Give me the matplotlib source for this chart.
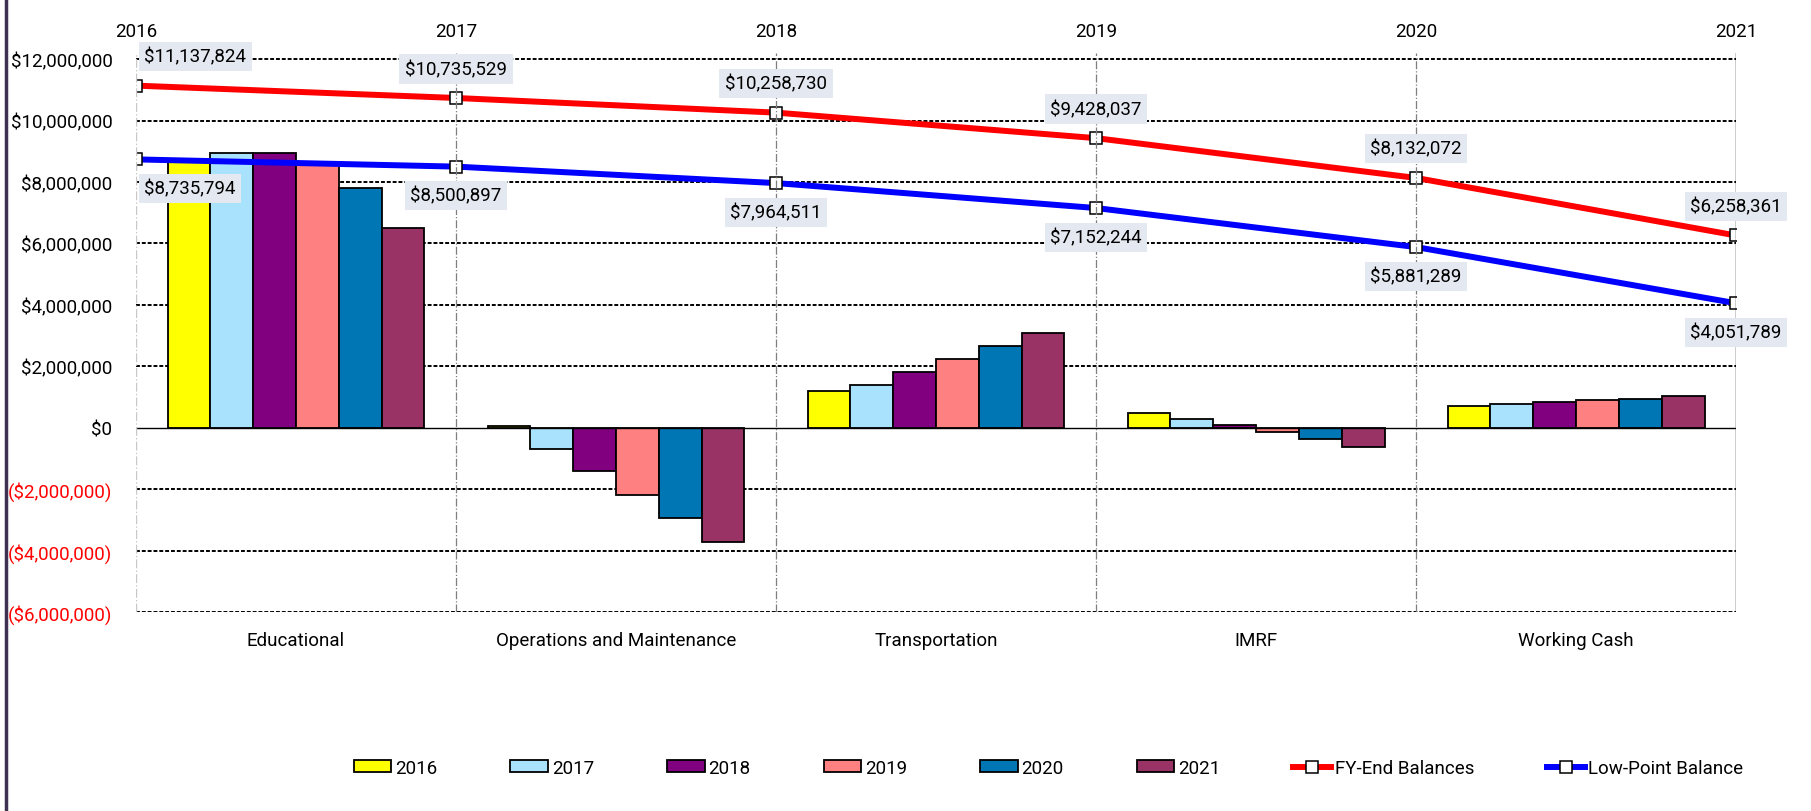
import numpy as np
import matplotlib
matplotlib.use('Agg')
from matplotlib import pyplot as plt
from matplotlib.lines import Line2D

plt.rcParams['font.family'] = ['Roboto', 'DejaVu Sans']
plt.rcParams['font.size'] = 13.5

categorias = ['Educational', 'Operations and Maintenance', 'Transportation', 'IMRF', 'Working Cash']
años = [2016, 2017, 2018, 2019, 2020, 2021]

# one list per year, values by category
saldos_2016 = [8700000, 50000, 1200000, 475000, 710000]
saldos_2017 = [8930000, -680000, 1390000, 270000, 770000]
saldos_2018 = [8950000, -1420000, 1820000, 85000, 830000]
saldos_2019 = [8600000, -2180000, 2240000, -150000, 900000]
saldos_2020 = [7810000, -2950000, 2650000, -380000, 950000]
saldos_2021 = [6490000, -3730000, 3070000, -630000, 1020000]

fy_end = [11137824, 10735529, 10258730, 9428037, 8132072, 6258361]
low_point = [8735794, 8500897, 7964511, 7152244, 5881289, 4051789]

series = [saldos_2016, saldos_2017, saldos_2018, saldos_2019, saldos_2020, saldos_2021]
colores = ['#FFFF00', '#A9E2FC', '#800080', '#FF8080', '#0077B4', '#993366']


def formato_dolar(v):
    if v < 0:
        return f'(${-v:,.0f})'
    return f'${v:,.0f}'


fig = plt.figure(figsize=(18.11, 8.12), dpi=100)
ax = fig.add_axes([0.0751, 0.2451, 0.8835, 0.6884])

x = np.arange(len(categorias))
ancho = 0.803 / len(series)
barras = []
for i, (valores, color) in enumerate(zip(series, colores)):
    b = ax.bar(x + (i - 2.5) * ancho, valores, ancho, color=color,
               edgecolor='black', linewidth=1.3, zorder=2, label=str(años[i]))
    barras.append(b)

ax.set_xlim(-0.5, 4.5)
ax.set_ylim(-6000000, 12200000)
marcas = list(range(-6000000, 12000001, 2000000))
ax.set_yticks(marcas, [formato_dolar(m) for m in marcas])
for etiqueta, m in zip(ax.get_yticklabels(), marcas):
    etiqueta.set_color('#FF0000' if m < 0 else 'black')
for m in marcas:
    if m != 0:
        ax.axhline(m, color='black', linewidth=1.4, linestyle=(0, (2, 1)), zorder=1)
ax.axhline(0, color='black', linewidth=1.0, zorder=2.5)

ax.set_xticks(x, categorias)
ax.tick_params(axis='x', length=0, pad=14)
ax.tick_params(axis='y', length=0, pad=17)
for s in ax.spines.values():
    s.set_visible(False)

ax2 = ax.twiny()
ax2.set_xlim(2016, 2021)
ax2.set_xticks(años, [str(a) for a in años])
ax2.tick_params(axis='x', length=0, pad=9)
for s in ax2.spines.values():
    s.set_visible(False)

for a in años:
    if a == 2016:
        ax2.axvline(a, color='#C8C8C8', linewidth=1.0, linestyle='-.', zorder=3.5)
    elif a == 2021:
        ax2.axvline(a, color='black', linewidth=1.0, zorder=3.5)
    else:
        ax2.axvline(a, color='#7F7F7F', linewidth=0.9, linestyle='-.', zorder=3.5)

l1, = ax2.plot(años, fy_end, color='#FF0000', linewidth=4.3, marker='s', markersize=9,
               markerfacecolor='white', markeredgecolor='black', markeredgewidth=1.1,
               zorder=3, label='FY-End Balances')
l2, = ax2.plot(años, low_point, color='#0000FF', linewidth=4.3, marker='s', markersize=9,
               markerfacecolor='white', markeredgecolor='black', markeredgewidth=1.1,
               zorder=3, label='Low-Point Balance')

caja = dict(boxstyle='square,pad=0.3', fc='#E4E8F0', ec='none')
for i, a in enumerate(años):
    dx, ha = (6, 'left') if i == 0 else (0, 'center')
    ax2.annotate(formato_dolar(fy_end[i]), (a, fy_end[i]), xytext=(dx, 21),
                 textcoords='offset points', ha=ha, va='center', bbox=caja, zorder=4)
    ax2.annotate(formato_dolar(low_point[i]), (a, low_point[i]), xytext=(dx, -21),
                 textcoords='offset points', ha=ha, va='center', bbox=caja, zorder=4)

manijas = barras + [l1, l2]
nombres = [str(a) for a in años] + ['FY-End Balances', 'Low-Point Balance']
fig.legend(manijas, nombres, loc='center', bbox_to_anchor=(0.579, 0.053), ncol=8,
           frameon=False, handlelength=2.0, handleheight=0.6, handletextpad=0.2,
           columnspacing=3.9)

fig.add_artist(Line2D([0.0032, 0.0032], [0, 1], color='#3F3151', linewidth=2.5,
                      transform=fig.transFigure))

fig.savefig('out.png', dpi=100)
